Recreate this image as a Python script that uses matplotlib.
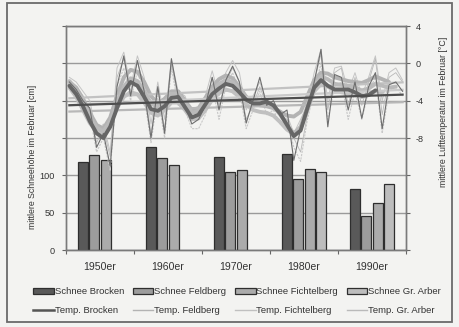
import numpy as np
import matplotlib
matplotlib.use("Agg")
import matplotlib.pyplot as plt
from matplotlib.patches import Rectangle, Patch
from matplotlib.lines import Line2D

plt.rcParams['font.family'] = ['Liberation Sans', 'DejaVu Sans']

# Mean February snow depth per decade [cm]
decades = ['1950er', '1960er', '1970er', '1980er', '1990er']
snow_brocken = [118, 138, 124, 128, 82]
snow_feldberg = [127, 123, 105, 95, 46]
snow_fichtelberg = [121, 114, 107, 108, 63]
snow_arber = [None, None, None, 104, 89]

# Mean February air temperature per year [°C]
years = list(range(1950, 2000))
temp_brocken = [-2.0, -2.8, -4.0, -4.8, -9.0, -7.5, -11.0, -2.5, 0.8, -3.5,
                0.3, -3.0, -8.0, -2.5, -7.5, 0.5, -3.5, -4.5, -6.5, -6.0,
                -4.5, -1.5, -5.0, -1.8, -0.3, -2.0, -6.4, -4.0, -1.5, -4.5,
                -4.0, -5.5, -5.0, -10.4, -7.0, -5.0, -2.0, 1.5, -6.8, -1.2,
                -1.5, -5.0, -2.0, -5.9, -2.5, -1.0, -7.0, -2.3, -2.0, -3.0]
temp_feldberg = [-1.5, -2.0, -3.0, -4.0, -7.5, -6.5, -9.5, -0.5, 1.2, -2.5,
                 0.8, -1.5, -6.5, -2.0, -6.0, 0.3, -3.0, -3.5, -5.5, -5.0,
                 -3.5, -0.8, -3.5, -1.0, 0.3, -1.0, -5.0, -3.5, -2.0, -4.0,
                 -4.5, -5.0, -5.5, -7.5, -6.0, -4.5, -1.0, 1.5, -4.0, -0.5,
                 -0.3, -3.0, -1.0, -3.5, -1.5, 0.8, -4.0, -1.0, -0.5, -1.8]
temp_fichtelberg = [-2.5, -3.0, -4.5, -5.5, -9.5, -8.0, -11.5, -2.5, -0.5, -4.0,
                    -0.8, -3.5, -8.5, -3.5, -8.0, -0.5, -4.5, -5.0, -7.0, -7.0,
                    -5.5, -2.5, -6.0, -2.5, -1.0, -3.0, -7.0, -5.0, -3.0, -5.5,
                    -5.0, -6.5, -6.0, -9.0, -10.5, -6.0, -3.0, 0.0, -6.0, -2.5,
                    -2.0, -6.0, -3.0, -6.0, -3.0, -1.5, -7.5, -3.0, -2.5, -3.5]
temp_arber = [-2.0, -2.5, -3.5, -5.0, -8.5, -7.0, -10.0, -1.5, 0.5, -3.0,
              0.2, -2.5, -7.5, -2.8, -7.0, 0.0, -3.8, -4.0, -6.0, -6.0,
              -4.5, -1.5, -4.5, -2.0, -0.5, -2.0, -6.0, -4.5, -2.5, -4.5,
              -4.5, -5.5, -6.0, -8.0, -9.5, -5.5, -2.0, 1.0, -5.0, -1.0,
              -0.5, -4.5, -1.5, -4.5, -2.0, 0.5, -5.5, -1.5, -1.0, -2.0]

# Smoothed (moving average) February temperature [°C]
smooth_brocken = [-2.4, -3.3, -4.6, -6.2, -7.5, -8.0, -6.8, -4.8, -3.0, -2.0,
                  -2.4, -3.6, -4.9, -5.1, -4.6, -3.7, -3.6, -4.7, -5.8, -5.5,
                  -4.4, -3.3, -2.7, -2.2, -2.4, -3.1, -3.9, -4.3, -4.3, -4.1,
                  -4.5, -5.4, -6.6, -7.8, -7.2, -4.8, -2.6, -1.8, -2.4, -2.8,
                  -2.8, -2.8, -3.1, -3.5, -3.4, -2.9, None, None, None, None]
smooth_feldberg = [-2.0, -2.6, -3.8, -5.3, -6.6, -7.0, -5.8, -3.5, -1.5, -0.7,
                   -0.9, -2.0, -3.5, -4.3, -3.8, -3.0, -3.0, -4.0, -5.0, -4.8,
                   -3.7, -2.5, -1.7, -1.3, -1.6, -2.5, -3.6, -4.3, -4.5, -4.6,
                   -4.8, -5.2, -5.6, -5.7, -5.2, -3.5, -1.8, -1.0, -1.1, -1.5,
                   -1.7, -1.9, -2.0, -2.1, -1.8, -1.4, -1.7, -2.0, None, None]
smooth_fichtelberg = [-2.6, -3.6, -5.0, -6.4, -7.3, -7.4, -6.4, -4.8, -3.6, -3.1,
                      -3.3, -4.2, -5.3, -5.6, -5.0, -4.2, -4.2, -5.0, -6.0, -5.9,
                      -5.0, -3.9, -3.2, -2.8, -3.0, -3.6, -4.4, -5.0, -5.2, -5.3,
                      -5.6, -6.3, -7.1, -7.6, -7.0, -5.0, -3.0, -2.2, -2.5, -2.9,
                      -3.1, -3.2, -3.4, -3.6, -3.4, -3.0, -3.1, None, None, None]
smooth_arber = [-1.9, -2.8, -4.1, -5.7, -6.9, -7.3, -6.2, -4.2, -2.5, -1.6,
                -1.9, -3.0, -4.3, -4.7, -4.2, -3.3, -3.2, -4.2, -5.3, -5.1,
                -4.0, -2.9, -2.2, -1.8, -2.0, -2.8, -3.6, -4.1, -4.2, -4.1,
                -4.6, -5.5, -6.6, -7.5, -6.8, -4.6, -2.5, -1.4, -1.7, -2.2,
                -2.3, -2.4, -2.6, -2.9, -2.7, -2.2, -2.4, -2.6, -2.5, None]

W, H = 459, 327
fig = plt.figure(figsize=(W / 100, H / 100), dpi=100)
paper = '#f3f3f1'
fig.patch.set_facecolor(paper)

# outer frame
fig.patches.append(Rectangle((7 / W, 1 - 322 / H), 445 / W, 319 / H,
                             transform=fig.transFigure, fill=False,
                             edgecolor='#6a6a6a', linewidth=1.3))

ax = fig.add_axes([66 / W, 1 - 250 / H, 340 / W, 224 / H])
ax.set_facecolor(paper)
ax2 = ax.twinx()

text_col = '#333333'
n_groups = len(decades)
slot = 0.169
bar_w = 0.147
bar_edge = '#2e2e2e'
snow_series = [
    ('Schnee Brocken', snow_brocken, '#595959'),
    ('Schnee Feldberg', snow_feldberg, '#9c9c9c'),
    ('Schnee Fichtelberg', snow_fichtelberg, '#ababab'),
    ('Schnee Gr. Arber', snow_arber, '#bdbdbd'),
]
centers = np.arange(n_groups) + 0.5
bar_handles = []
for k, (name, vals, col) in enumerate(snow_series):
    v = np.array(vals, dtype=float)
    ok = ~np.isnan(v)
    ax.bar((centers + (k - 1.5) * slot)[ok], v[ok], width=bar_w,
           color=col, edgecolor=bar_edge, linewidth=0.9, zorder=3)
    bar_handles.append(Patch(facecolor=col, edgecolor=bar_edge, linewidth=0.9))

ax.set_xlim(0, n_groups)
ax.set_ylim(0, 300)
ax.set_yticks(np.arange(0, 301, 50))
ax.set_yticklabels(['0', '50', '100', '', '', '', ''])
ax.yaxis.grid(True, color='#9a9a9a', linewidth=1.0, zorder=0)
ax.set_axisbelow(True)
ax.set_xticks(np.arange(0, n_groups + 1))
ax.set_xticklabels([])
ax.set_xticks(centers, minor=True)
ax.set_xticklabels(decades, minor=True)
ax.tick_params(axis='x', which='major', length=3, color='#666666', direction='out')
ax.tick_params(axis='x', which='minor', length=0, pad=8.5, labelsize=7.6, labelcolor=text_col)
ax.tick_params(axis='y', length=3, color='#666666', labelsize=6.6, labelcolor=text_col, pad=5)

ax2.set_ylim(-20, 4)
ax2.set_yticks(np.arange(-20, 5, 4))
ax2.set_yticklabels(['', '', '', '-8', '-4', '0', '4'])
ax2.tick_params(axis='y', length=3, color='#666666', labelsize=6.6, labelcolor=text_col, pad=4)

for a in (ax, ax2):
    for s in a.spines.values():
        s.set_color('#7a7a7a')
        s.set_linewidth(1.0)

yrs = np.array(years, dtype=float)
xpos = (yrs - 1950 + 0.5) / 10.0

# name, raw, smoothed, raw colour, raw width, raw style, smooth colour, trend colour, legend width
temp_series = [
    ('Temp. Brocken', temp_brocken, smooth_brocken, '#6e6e6e', 0.8, '-', '#666666', '#4e4e4e', 1.8),
    ('Temp. Feldberg', temp_feldberg, smooth_feldberg, '#c4c4c4', 0.7, '-', '#b3b3b3', '#c2c2c2', 1.0),
    ('Temp. Fichtelberg', temp_fichtelberg, smooth_fichtelberg, '#c8c8c8', 0.8, (0, (2, 1)), '#c0c0c0', '#b8b8b8', 1.0),
    ('Temp. Gr. Arber', temp_arber, smooth_arber, '#b8b8b8', 0.6, '-', '#bababa', '#cacaca', 1.0),
]

# light stations first so Brocken sits on top
line_handles = [None] * 4
for idx in [1, 2, 3, 0]:
    name, raw, smooth, col, lw, ls, scol, tcol, llw = temp_series[idx]
    raw = np.array(raw, dtype=float)
    sm = np.array(smooth, dtype=float)
    z = 6 if idx == 0 else 4
    ax2.plot(xpos, raw, color=col, linewidth=lw, linestyle=ls, zorder=z)
    ax2.plot(xpos, sm, color=scol, linewidth=2.8, solid_capstyle='round',
             solid_joinstyle='round', zorder=z + 1)
    slope, icpt = np.polyfit(yrs, raw, 1)
    ax2.plot(xpos, slope * yrs + icpt, color=tcol, linewidth=1.6, zorder=z + 1)
    line_handles[idx] = Line2D([], [], color=scol if idx else '#555555', linewidth=llw)

fig.text(33 / W, 1 - 157 / H, 'mittlere Schneehöhe im Februar [cm]', rotation=90,
         ha='center', va='center', fontsize=6.3, color=text_col)
fig.text(443 / W, 1 - 112 / H, 'mittlere Lufttemperatur im Februar [°C]', rotation=90,
         ha='center', va='center', fontsize=6.3, color=text_col)

handles, labels = [], []
for k in range(4):
    handles += [bar_handles[k], line_handles[k]]
    labels += [snow_series[k][0], temp_series[k][0]]
leg = fig.legend(handles, labels, ncol=4, loc='center',
                 bbox_to_anchor=(0.5 * (37 + 437) / W, 1 - 301 / H),
                 frameon=False, fontsize=6.8, handlelength=2.2,
                 handletextpad=0.1, columnspacing=0.9, labelspacing=1.0,
                 handleheight=0.6, borderpad=0)
for t in leg.get_texts():
    t.set_color(text_col)

fig.savefig('out.png', dpi=100, facecolor=paper)
